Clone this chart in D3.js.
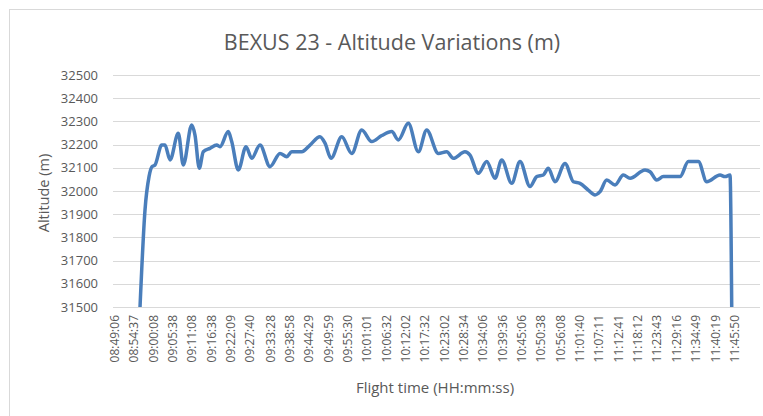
<!DOCTYPE html>
<html>
<head>
<meta charset="utf-8">
<script src="https://cdn.jsdelivr.net/npm/d3@7"></script>
<style>
  html, body { margin: 0; padding: 0; background: #fff; }
  svg { display: block; font-family: "Open Sans", "Noto Sans", sans-serif; }
</style>
</head>
<body>
<div id="chart"></div>
<script>
// category labels shown on the x axis
const tickLabels = ["08:49:06","08:54:37","09:00:08","09:05:38","09:11:08","09:16:38","09:22:09","09:27:40",
  "09:33:28","09:38:58","09:44:29","09:49:59","09:55:30","10:01:01","10:06:32","10:12:02","10:17:32",
  "10:23:02","10:28:34","10:34:06","10:39:36","10:45:06","10:50:38","10:56:08","11:01:40","11:07:11",
  "11:12:41","11:18:12","11:23:43","11:29:16","11:34:49","11:40:19","11:45:50"];

// flight time of each reading
const times = ["08:56:14","08:57:39","08:58:48","08:59:39","09:00:30","09:02:25","09:03:21","09:04:47",
  "09:07:09","09:08:34","09:10:58","09:11:54","09:13:08","09:14:16","09:16:11","09:18:06","09:19:02",
  "09:21:24","09:22:22","09:24:15","09:26:27","09:28:04","09:30:26","09:33:17","09:36:08","09:38:03",
  "09:39:28","09:42:19","09:44:41","09:47:32","09:48:58","09:50:41","09:53:44","09:56:35","09:59:26",
  "10:02:17","10:05:08","10:07:59","10:09:52","10:12:43","10:15:34","10:17:57","10:21:16","10:23:39",
  "10:25:32","10:28:52","10:30:18","10:32:40","10:35:04","10:37:26","10:39:20","10:42:11","10:44:33",
  "10:47:24","10:49:19","10:51:12","10:52:37","10:54:32","10:57:23","10:59:45","11:01:39","11:04:01",
  "11:05:56","11:07:21","11:09:16","11:11:38","11:14:00","11:15:55","11:20:11","11:21:37","11:23:31",
  "11:25:24","11:30:10","11:32:32","11:35:23","11:37:46","11:41:34","11:42:59","11:44:25","11:44:54"];

// altitude in metres
const altitude = [31500,31918,32062,32105,32112,32198,32198,32134,
  32249,32112,32284,32241,32098,32169,32184,32198,32191,
  32256,32213,32091,32191,32141,32198,32105,32162,32148,
  32169,32169,32198,32234,32206,32141,32234,32162,32263,
  32213,32239,32256,32220,32292,32169,32263,32162,32169,
  32141,32169,32155,32076,32127,32055,32134,32033,32127,
  32019,32062,32069,32098,32040,32119,32040,32033,32004,
  31983,31997,32047,32026,32069,32055,32091,32083,32047,
  32062,32062,32127,32127,32040,32069,32062,32069,31500];

const yTicks = [31500,31600,31700,31800,31900,32000,32100,32200,32300,32400,32500];

const W = 763, H = 416;
const toSec = s => { const p = s.split(":").map(Number); return p[0]*3600 + p[1]*60 + p[2]; };
const data = times.map((t, i) => ({ t: toSec(t), v: altitude[i] }));

const svg = d3.select("#chart").append("svg")
    .attr("width", W)
    .attr("height", H);

// chart frame
svg.append("rect")
    .attr("x", 9.5).attr("y", 9.5)
    .attr("width", 800).attr("height", 500)
    .attr("fill", "#fff")
    .attr("stroke", "#d9d9d9");

const plotLeft = 113, plotRight = 760;

const x = d3.scaleLinear()
    .domain([toSec(tickLabels[0]), toSec(tickLabels[tickLabels.length - 1])])
    .range([115, 735]);

const y = d3.scaleLinear()
    .domain([31500, 32500])
    .range([307, 75]);

// horizontal gridlines
svg.append("g")
    .selectAll("line")
    .data(yTicks)
    .join("line")
        .attr("x1", plotLeft)
        .attr("x2", plotRight)
        .attr("y1", d => Math.round(y(d)) + 0.5)
        .attr("y2", d => Math.round(y(d)) + 0.5)
        .attr("stroke", "#d9d9d9")
        .attr("stroke-width", 1);

// y axis labels
svg.append("g")
    .attr("transform", `translate(${plotLeft - 15},0)`)
    .call(d3.axisLeft(y).tickValues(yTicks).tickFormat(d3.format("d")).tickSize(0).tickPadding(0))
    .call(g => g.select(".domain").remove())
    .call(g => g.selectAll("text")
        .attr("fill", "#595959")
        .style("font-size", "13px")
        .style("font-family", "'Open Sans', sans-serif"));

// x axis labels, rotated
svg.append("g")
    .selectAll("text")
    .data(tickLabels)
    .join("text")
        .attr("transform", d => `translate(${x(toSec(d)) + 4},315) rotate(-90)`)
        .attr("text-anchor", "end")
        .attr("fill", "#595959")
        .style("font-size", "12px")
        .text(d => d);

const line = d3.line()
    .x(d => x(d.t))
    .y(d => y(d.v))
    .curve(d3.curveMonotoneX);

svg.append("path")
    .datum(data)
    .attr("fill", "none")
    .attr("stroke", "#4a7ebb")
    .attr("stroke-width", 3.5)
    .attr("stroke-linejoin", "round")
    .attr("d", line);

// titles
svg.append("text")
    .attr("x", 392).attr("y", 50)
    .attr("text-anchor", "middle")
    .attr("fill", "#595959")
    .style("font-size", "21.5px")
    .text("BEXUS 23 - Altitude Variations (m)");

svg.append("text")
    .attr("transform", "translate(49,193) rotate(-90)")
    .attr("text-anchor", "middle")
    .attr("fill", "#595959")
    .style("font-size", "14.5px")
    .text("Altitude (m)");

svg.append("text")
    .attr("x", 435).attr("y", 393)
    .attr("text-anchor", "middle")
    .attr("fill", "#595959")
    .style("font-size", "15px")
    .text("Flight time (HH:mm:ss)");
</script>
</body>
</html>
